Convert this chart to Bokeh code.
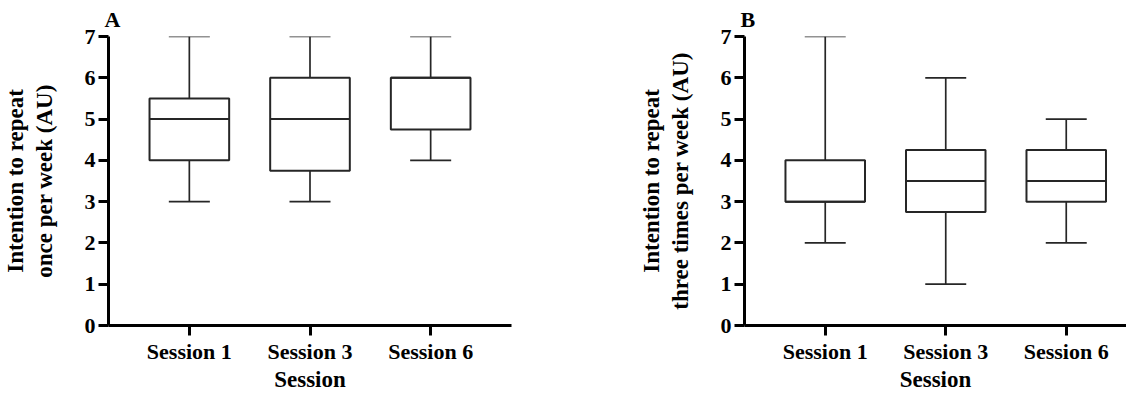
from bokeh.plotting import figure
from bokeh.layouts import row
from bokeh.models import Range1d, FixedTicker
from bokeh.embed import file_html
from bokeh.resources import INLINE

# ---- data ----
sessions = ["Session 1", "Session 3", "Session 6"]
y_ticks = [0, 1, 2, 3, 4, 5, 6, 7]

# Panel A: intention to repeat once per week
a_min = [3, 3, 4]
a_q1 = [4, 3.75, 4.75]
a_med = [5, 5, 6]
a_q3 = [5.5, 6, 6]
a_max = [7, 7, 7]

# Panel B: intention to repeat three times per week
b_min = [2, 1, 2]
b_q1 = [3, 2.75, 3]
b_med = [3, 3.5, 3.5]
b_q3 = [4, 4.25, 4.25]
b_max = [7, 6, 5]

FONT = "Liberation Serif"
LINE = "#262626"
BOX_W = 0.66
CAP_W = 0.34


def panel(letter, ylabel, mins, q1s, meds, q3s, maxs, width, x_end,
          top_border, bottom_border, right_border):
    idx = list(range(len(sessions)))
    p = figure(width=width, height=394, output_backend="svg", toolbar_location=None,
               x_range=Range1d(-0.67, x_end), y_range=Range1d(0, 7),
               min_border_left=102, min_border_right=right_border,
               min_border_top=top_border, min_border_bottom=bottom_border)
    p.outline_line_color = None
    p.xgrid.visible = False
    p.ygrid.visible = False
    p.background_fill_color = "white"
    p.border_fill_color = "white"

    # panel letter as title
    p.title.text = letter
    p.title.align = "left"
    p.title.offset = -4
    p.title.standoff = 9
    p.title.text_font = FONT
    p.title.text_font_style = "bold"
    p.title.text_font_size = "22px"
    p.title.text_color = "black"

    # whiskers
    p.segment(x0=idx, y0=q3s, x1=idx, y1=maxs, line_color=LINE, line_width=1.7)
    p.segment(x0=idx, y0=q1s, x1=idx, y1=mins, line_color=LINE, line_width=1.7)
    # caps
    lo = [i - CAP_W / 2 for i in idx]
    hi = [i + CAP_W / 2 for i in idx]
    p.segment(x0=lo, y0=maxs, x1=hi, y1=maxs, line_color=LINE, line_width=1.7)
    p.segment(x0=lo, y0=mins, x1=hi, y1=mins, line_color=LINE, line_width=1.7)
    # boxes
    p.vbar(x=idx, width=BOX_W, bottom=q1s, top=q3s, fill_color="white",
           line_color=LINE, line_width=2)
    # medians
    p.segment(x0=[i - BOX_W / 2 for i in idx], y0=meds,
              x1=[i + BOX_W / 2 for i in idx], y1=meds, line_color=LINE, line_width=2)

    # axes
    for ax in (p.xaxis[0], p.yaxis[0]):
        ax.axis_line_width = 3
        ax.axis_line_color = "black"
        ax.major_tick_line_width = 3
        ax.major_tick_line_color = "black"
        ax.major_tick_out = 10
        ax.major_tick_in = 0
        ax.minor_tick_line_color = None
        ax.major_label_text_font = FONT
        ax.major_label_text_font_style = "bold"
        ax.major_label_text_font_size = "22px"
        ax.major_label_text_color = "black"
        ax.axis_label_text_font = FONT
        ax.axis_label_text_font_style = "bold"
        ax.axis_label_text_font_size = "23px"
        ax.axis_label_text_color = "black"

    p.xaxis.ticker = FixedTicker(ticks=idx)
    p.xaxis.major_label_overrides = {i: s for i, s in zip(idx, sessions)}
    p.xaxis.major_label_standoff = 3
    p.xaxis.axis_label = "Session"
    p.xaxis.axis_label_standoff = 0

    p.yaxis.ticker = FixedTicker(ticks=y_ticks)
    p.yaxis.major_label_standoff = 3
    p.yaxis.axis_label = ylabel
    p.yaxis.axis_label_text_line_height = 1.13
    p.yaxis.axis_label_standoff = 25
    return p


pa = panel("A", "Intention to repeat\nonce per week (AU)",
           a_min, a_q1, a_med, a_q3, a_max,
           width=636, x_end=2.67, top_border=34, bottom_border=65, right_border=125)
pb = panel("B", "Intention to repeat\nthree times per week (AU)",
           b_min, b_q1, b_med, b_q3, b_max,
           width=490, x_end=2.5, top_border=32, bottom_border=67, right_border=0)

layout = row(pa, pb)
open("out.html", "w").write(file_html(layout, INLINE))
